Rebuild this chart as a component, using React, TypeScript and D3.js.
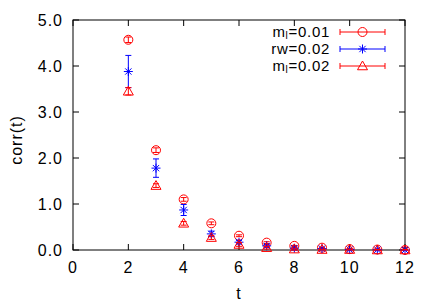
import React from 'react';
import * as d3 from 'd3';

const tValues = [2, 3, 4, 5, 6, 7, 8, 9, 10, 11, 12];
// m_l = 0.01
const corrM001 = [4.57, 2.17, 1.1, 0.58, 0.31, 0.16, 0.09, 0.05, 0.02, 0.01, 0.0];
const errM001 = [0.06, 0.05, 0.04, 0.03, 0.02, 0.02, 0.01, 0.01, 0.01, 0.01, 0.01];
// rw = 0.02
const corrRw = [3.88, 1.78, 0.87, 0.35, 0.17, 0.09, 0.04, 0.03, 0.01, 0.005, 0.0];
const errRw = [0.35, 0.2, 0.12, 0.06, 0.04, 0.03, 0.02, 0.01, 0.01, 0.01, 0.01];
// m_l = 0.02
const corrM002 = [3.45, 1.4, 0.58, 0.27, 0.12, 0.05, 0.02, 0.01, 0.01, 0.0, 0.0];
const errM002 = [0.08, 0.04, 0.04, 0.04, 0.04, 0.03, 0.02, 0.01, 0.01, 0.01, 0.01];

const xTicks = [0, 2, 4, 6, 8, 10, 12];
const yTicks = [0, 1, 2, 3, 4, 5];

const W = 436;
const H = 305;
const margin = { left: 73, right: 31, top: 20, bottom: 55 };
const font = '"Liberation Sans", Arial, sans-serif';

type Marker = 'circle' | 'star' | 'triangle';

const series: { name: string; sub?: string; suffix: string; color: string; marker: Marker; vals: number[]; errs: number[] }[] = [
  { name: 'm', sub: 'l', suffix: '=0.01', color: '#ff0000', marker: 'circle', vals: corrM001, errs: errM001 },
  { name: 'rw', suffix: '=0.02', color: '#0000ff', marker: 'star', vals: corrRw, errs: errRw },
  { name: 'm', sub: 'l', suffix: '=0.02', color: '#ff0000', marker: 'triangle', vals: corrM002, errs: errM002 },
];

function MarkerShape({ kind, x, y, color }: { kind: Marker; x: number; y: number; color: string }) {
  if (kind === 'circle') {
    return <circle cx={x} cy={y} r={4.5} fill="none" stroke={color} strokeWidth={1} />;
  }
  if (kind === 'triangle') {
    const s = 5;
    return (
      <path
        d={`M${x},${y - s} L${x + s},${y + s * 0.75} L${x - s},${y + s * 0.75} Z`}
        fill="none"
        stroke={color}
        strokeWidth={1}
      />
    );
  }
  const s = 4.5;
  return (
    <g stroke={color} strokeWidth={1}>
      <line x1={x - s} x2={x + s} y1={y} y2={y} />
      <line x1={x - s * 0.7} x2={x + s * 0.7} y1={y - s * 0.7} y2={y + s * 0.7} />
      <line x1={x - s * 0.7} x2={x + s * 0.7} y1={y + s * 0.7} y2={y - s * 0.7} />
      <line x1={x} x2={x} y1={y - s} y2={y + s} />
    </g>
  );
}

export default function App() {
  const x = d3.scaleLinear().domain([0, 12]).range([margin.left, W - margin.right]);
  const y = d3.scaleLinear().domain([0, 5]).range([H - margin.bottom, margin.top]);
  const [x0, x1] = x.range();
  const [y0, y1] = y.range();

  return (
    <svg width={W} height={H} style={{ position: 'absolute', left: 0, top: 0, background: '#fff' }} fontFamily={font} letterSpacing={1}>
      {/* ticks */}
      {xTicks.map(t => (
        <g key={'x' + t}>
          <line x1={x(t)} x2={x(t)} y1={y0} y2={y0 - 6} stroke="#000" />
          <line x1={x(t)} x2={x(t)} y1={y1} y2={y1 + 6} stroke="#000" />
          <text x={x(t)} y={y0 + 23} textAnchor="middle" fontSize={16}>{t}</text>
        </g>
      ))}
      {yTicks.map(t => (
        <g key={'y' + t}>
          <line x1={x0} x2={x0 + 6} y1={y(t)} y2={y(t)} stroke="#000" />
          <line x1={x1} x2={x1 - 6} y1={y(t)} y2={y(t)} stroke="#000" />
          <text x={x0 - 10} y={y(t) + 6} textAnchor="end" fontSize={16}>{t.toFixed(1)}</text>
        </g>
      ))}
      <rect x={x0} y={y1} width={x1 - x0} height={y0 - y1} fill="none" stroke="#000" strokeWidth={1} />
      <text x={(x0 + x1) / 2} y={H - 6} textAnchor="middle" fontSize={16}>t</text>
      <text transform={`translate(22,140) rotate(-90)`} textAnchor="middle" fontSize={16}>corr(t)</text>

      {/* data */}
      {series.map((s, si) => (
        <g key={'s' + si}>
          {tValues.map((t, i) => {
            const cx = x(t);
            const cy = y(s.vals[i]);
            const top = y(s.vals[i] + s.errs[i]);
            const bot = y(Math.max(0, s.vals[i] - s.errs[i]));
            return (
              <g key={i}>
                <line x1={cx} x2={cx} y1={top} y2={bot} stroke={s.color} />
                <line x1={cx - 3} x2={cx + 3} y1={top} y2={top} stroke={s.color} />
                <line x1={cx - 3} x2={cx + 3} y1={bot} y2={bot} stroke={s.color} />
                <MarkerShape kind={s.marker} x={cx} y={cy} color={s.color} />
              </g>
            );
          })}
        </g>
      ))}

      {/* legend */}
      {series.map((s, i) => {
        const ly = 32 + i * 17;
        return (
          <g key={'l' + i}>
            <text x={330} y={ly + 5} textAnchor="end" fontSize={15} letterSpacing={0.7}>
              {s.name}
              {s.sub && <tspan fontSize={10} dy={2}>{s.sub}</tspan>}
              <tspan dy={s.sub ? -2 : 0}>{s.suffix}</tspan>
            </text>
            <line x1={340} x2={385} y1={ly} y2={ly} stroke={s.color} />
            <line x1={340} x2={340} y1={ly - 3} y2={ly + 3} stroke={s.color} />
            <line x1={385} x2={385} y1={ly - 3} y2={ly + 3} stroke={s.color} />
            <MarkerShape kind={s.marker} x={362.5} y={ly} color={s.color} />
          </g>
        );
      })}
    </svg>
  );
}
